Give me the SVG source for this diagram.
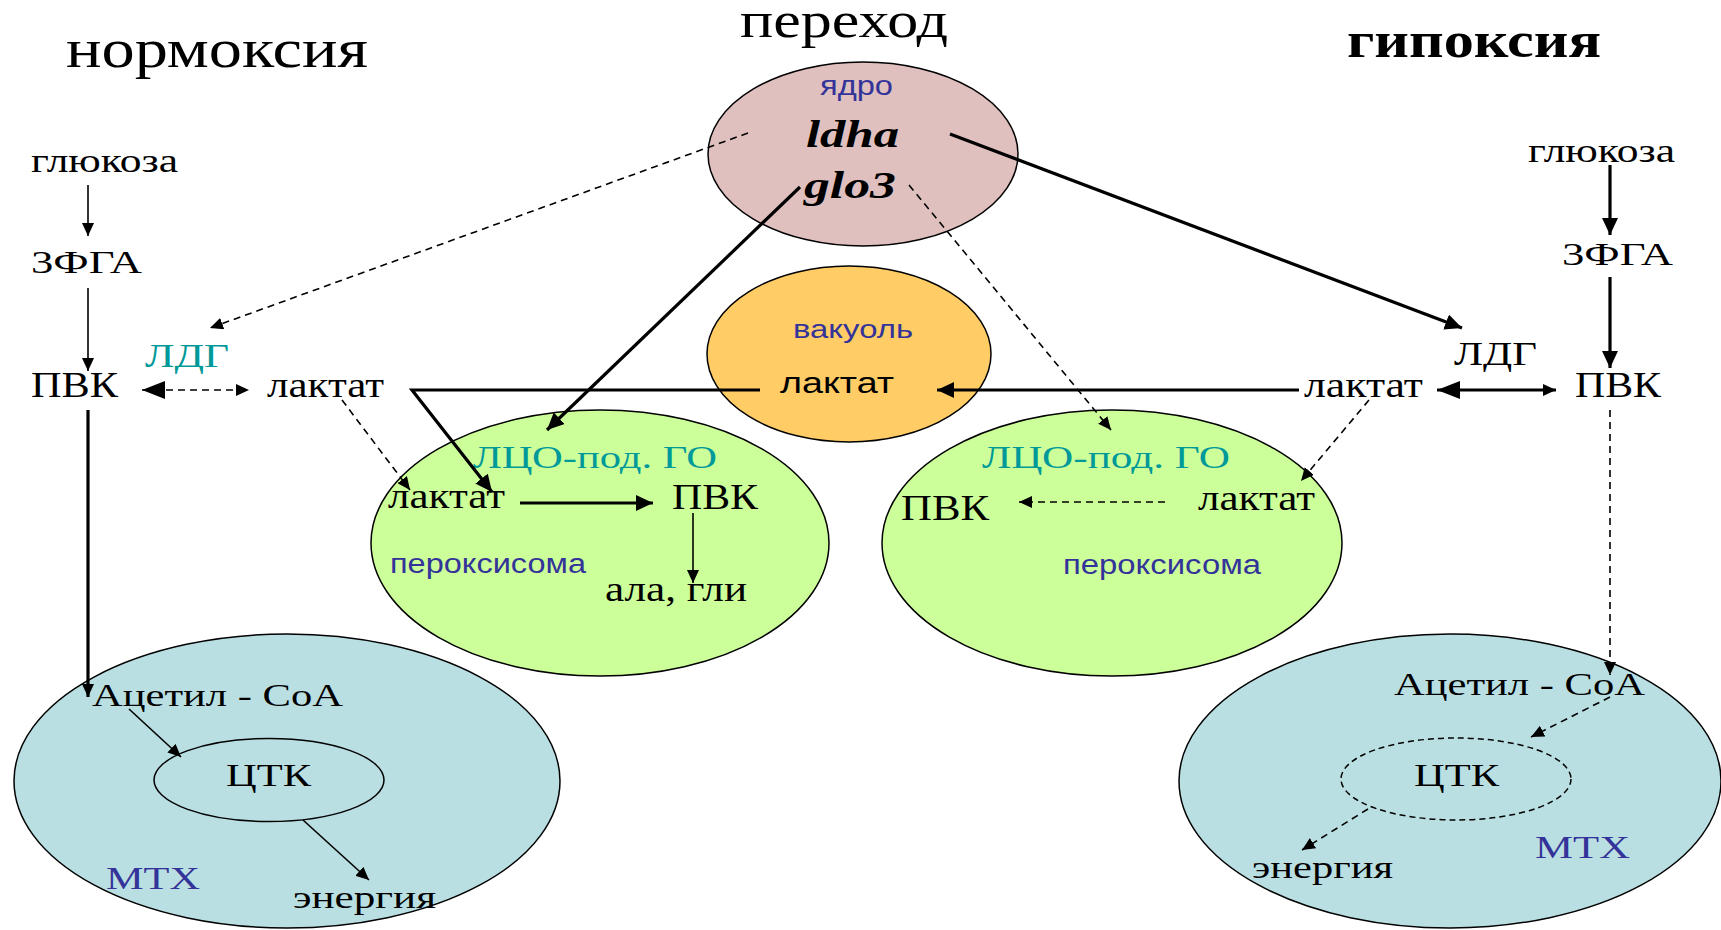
<svg xmlns="http://www.w3.org/2000/svg" width="1721" height="930" viewBox="0 0 1721 930">
<style>
.s{font-family:"Liberation Serif","Times New Roman",serif;fill:#000}
.a{font-family:"Liberation Sans",Arial,sans-serif;fill:#333399}
.t{fill:#009999}
.b{fill:#333399}
.e{stroke:#000;stroke-width:1.5}
.ln{fill:none;stroke:#000;stroke-width:1.6}
.th{fill:none;stroke:#000;stroke-width:3.2}
.d{fill:none;stroke:#000;stroke-width:1.6;stroke-dasharray:7 5}
</style>
<defs>
<marker id="h" markerUnits="userSpaceOnUse" markerWidth="14" markerHeight="12" refX="13" refY="6" orient="auto"><path d="M0,0 L13,6 L0,12 z" fill="#000"/></marker>
<marker id="hb" markerUnits="userSpaceOnUse" markerWidth="18" markerHeight="16" refX="17" refY="8" orient="auto"><path d="M0,0 L17,8 L0,16 z" fill="#000"/></marker>
<marker id="hx" markerUnits="userSpaceOnUse" markerWidth="24" markerHeight="18" refX="23" refY="9" orient="auto-start-reverse"><path d="M0,0 L23,9 L0,18 z" fill="#000"/></marker>
</defs>
<rect width="1721" height="930" fill="#fff"/>

<g id="titles">
<text class="s" x="66" y="67" font-size="54" textLength="302" lengthAdjust="spacingAndGlyphs">нормоксия</text>
<text class="s" x="740" y="37" font-size="50" textLength="208" lengthAdjust="spacingAndGlyphs">переход</text>
<text class="s" x="1347" y="57" font-size="50" font-weight="bold" textLength="254" lengthAdjust="spacingAndGlyphs">гипоксия</text>
</g>

<g id="mito-left">
<ellipse cx="287" cy="781" rx="273" ry="147" fill="#b9dfe2" class="e"/>
<ellipse cx="269" cy="780" rx="115" ry="41.5" fill="none" class="e"/>
<text class="s" x="92" y="706" font-size="32" textLength="251" lengthAdjust="spacingAndGlyphs">Ацетил - СоА</text>
<text class="s" x="226" y="786" font-size="32" textLength="85" lengthAdjust="spacingAndGlyphs">ЦТК</text>
<text class="s b" x="106" y="889" font-size="32" textLength="94" lengthAdjust="spacingAndGlyphs">МТХ</text>
<text class="s" x="293" y="908" font-size="32" textLength="143" lengthAdjust="spacingAndGlyphs">энергия</text>
</g>

<g id="mito-right">
<ellipse cx="1450" cy="781" rx="271" ry="147" fill="#b9dfe2" class="e"/>
<ellipse cx="1456" cy="779" rx="115" ry="41" fill="none" class="e" stroke-dasharray="6 4"/>
<text class="s" x="1394" y="695" font-size="32" textLength="251" lengthAdjust="spacingAndGlyphs">Ацетил - СоА</text>
<text class="s" x="1414" y="786" font-size="32" textLength="85" lengthAdjust="spacingAndGlyphs">ЦТК</text>
<text class="s b" x="1535" y="858" font-size="32" textLength="95" lengthAdjust="spacingAndGlyphs">МТХ</text>
<text class="s" x="1252" y="878" font-size="32" textLength="141" lengthAdjust="spacingAndGlyphs">энергия</text>
</g>

<g id="perox-left">
<ellipse cx="600" cy="543" rx="229" ry="133" fill="#ccff99" class="e"/>
<text class="s t" x="473" y="468" font-size="32" textLength="244" lengthAdjust="spacingAndGlyphs">ЛЦО-под. ГО</text>
<text class="s" x="388" y="508" font-size="35" textLength="117" lengthAdjust="spacingAndGlyphs">лактат</text>
<text class="s" x="672" y="509" font-size="35" textLength="86" lengthAdjust="spacingAndGlyphs">ПВК</text>
<text class="a" x="390" y="573" font-size="27" textLength="196" lengthAdjust="spacingAndGlyphs">пероксисома</text>
<text class="s" x="605" y="601" font-size="35" textLength="142" lengthAdjust="spacingAndGlyphs">ала, гли</text>
</g>

<g id="perox-right">
<ellipse cx="1112" cy="543" rx="230" ry="133" fill="#ccff99" class="e"/>
<text class="s t" x="982" y="468" font-size="32" textLength="248" lengthAdjust="spacingAndGlyphs">ЛЦО-под. ГО</text>
<text class="s" x="901" y="520" font-size="35" textLength="88" lengthAdjust="spacingAndGlyphs">ПВК</text>
<text class="s" x="1198" y="510" font-size="35" textLength="117" lengthAdjust="spacingAndGlyphs">лактат</text>
<text class="a" x="1063" y="574" font-size="27" textLength="198" lengthAdjust="spacingAndGlyphs">пероксисома</text>
</g>

<g id="nucleus">
<ellipse cx="863" cy="154" rx="155" ry="92" fill="#dfc0bf" class="e"/>
<text class="a" x="820" y="95" font-size="27" textLength="73" lengthAdjust="spacingAndGlyphs">ядро</text>
<text class="s" x="806" y="147" font-size="38" font-weight="bold" font-style="italic" textLength="93" lengthAdjust="spacingAndGlyphs">ldha</text>
<text class="s" x="804" y="198" font-size="38" font-weight="bold" font-style="italic" textLength="92" lengthAdjust="spacingAndGlyphs">glo3</text>
</g>

<g id="vacuole">
<ellipse cx="849" cy="354" rx="142" ry="88" fill="#ffcc66" class="e"/>
<text class="a" x="793" y="338" font-size="26" textLength="120" lengthAdjust="spacingAndGlyphs">вакуоль</text>
<text class="a" x="780" y="393" font-size="29" fill="#000" style="fill:#000" textLength="114" lengthAdjust="spacingAndGlyphs">лактат</text>
</g>

<g id="normoxia-path">
<text class="s" x="31" y="172" font-size="33" textLength="147" lengthAdjust="spacingAndGlyphs">глюкоза</text>
<text class="s" x="31" y="273" font-size="32" textLength="111" lengthAdjust="spacingAndGlyphs">3ФГА</text>
<text class="s" x="31" y="397" font-size="35" textLength="87" lengthAdjust="spacingAndGlyphs">ПВК</text>
<text class="s t" x="145" y="367" font-size="33" textLength="84" lengthAdjust="spacingAndGlyphs">ЛДГ</text>
<text class="s" x="267" y="397" font-size="35" textLength="117" lengthAdjust="spacingAndGlyphs">лактат</text>
</g>

<g id="hypoxia-path">
<text class="s" x="1528" y="162" font-size="33" textLength="147" lengthAdjust="spacingAndGlyphs">глюкоза</text>
<text class="s" x="1562" y="265" font-size="32" textLength="111" lengthAdjust="spacingAndGlyphs">3ФГА</text>
<text class="s" x="1454" y="365" font-size="33" textLength="83" lengthAdjust="spacingAndGlyphs">ЛДГ</text>
<text class="s" x="1304" y="397" font-size="35" textLength="119" lengthAdjust="spacingAndGlyphs">лактат</text>
<text class="s" x="1575" y="397" font-size="35" textLength="86" lengthAdjust="spacingAndGlyphs">ПВК</text>
</g>

<g id="connectors">
<line class="ln" x1="88" y1="185" x2="88" y2="236" marker-end="url(#h)"/>
<line class="ln" x1="88" y1="288" x2="88" y2="371" marker-end="url(#h)"/>
<line class="th" x1="88" y1="410" x2="88" y2="697" marker-end="url(#h)"/>
<line class="ln" x1="129" y1="709" x2="181" y2="757" marker-end="url(#h)"/>
<line class="ln" x1="303" y1="820" x2="369" y2="880" marker-end="url(#h)"/>
<line class="d" x1="142" y1="390" x2="249" y2="390" marker-start="url(#hx)" marker-end="url(#h)"/>
<line class="d" x1="748" y1="133" x2="210" y2="328" marker-end="url(#h)"/>
<line class="d" x1="342" y1="400" x2="410" y2="490" marker-end="url(#h)"/>
<path class="th" d="M760,390 L412,390 L492,492" marker-end="url(#hb)"/>
<line class="th" x1="800" y1="187" x2="547" y2="430" marker-end="url(#hb)"/>
<line class="th" x1="520" y1="503" x2="653" y2="503" marker-end="url(#hb)"/>
<line class="ln" x1="693" y1="513" x2="693" y2="583" marker-end="url(#h)"/>
<line class="th" x1="950" y1="134" x2="1462" y2="328" marker-end="url(#hb)"/>
<line class="d" x1="909" y1="185" x2="1111" y2="430" marker-end="url(#h)"/>
<line class="th" x1="1299" y1="390" x2="937" y2="390" marker-end="url(#hb)"/>
<line class="th" x1="1437" y1="390" x2="1556" y2="390" marker-start="url(#hx)" marker-end="url(#h)"/>
<line class="d" x1="1369" y1="400" x2="1301" y2="481" marker-end="url(#h)"/>
<line class="th" x1="1610" y1="165" x2="1610" y2="235" marker-end="url(#hb)"/>
<line class="th" x1="1610" y1="277" x2="1610" y2="368" marker-end="url(#hb)"/>
<line class="d" x1="1610" y1="410" x2="1610" y2="675" marker-end="url(#h)"/>
<line class="d" x1="1610" y1="697" x2="1531" y2="737" marker-end="url(#h)"/>
<line class="d" x1="1368" y1="809" x2="1302" y2="850" marker-end="url(#h)"/>
<line class="d" x1="1165" y1="502" x2="1019" y2="502" marker-end="url(#h)"/>
</g>
</svg>
